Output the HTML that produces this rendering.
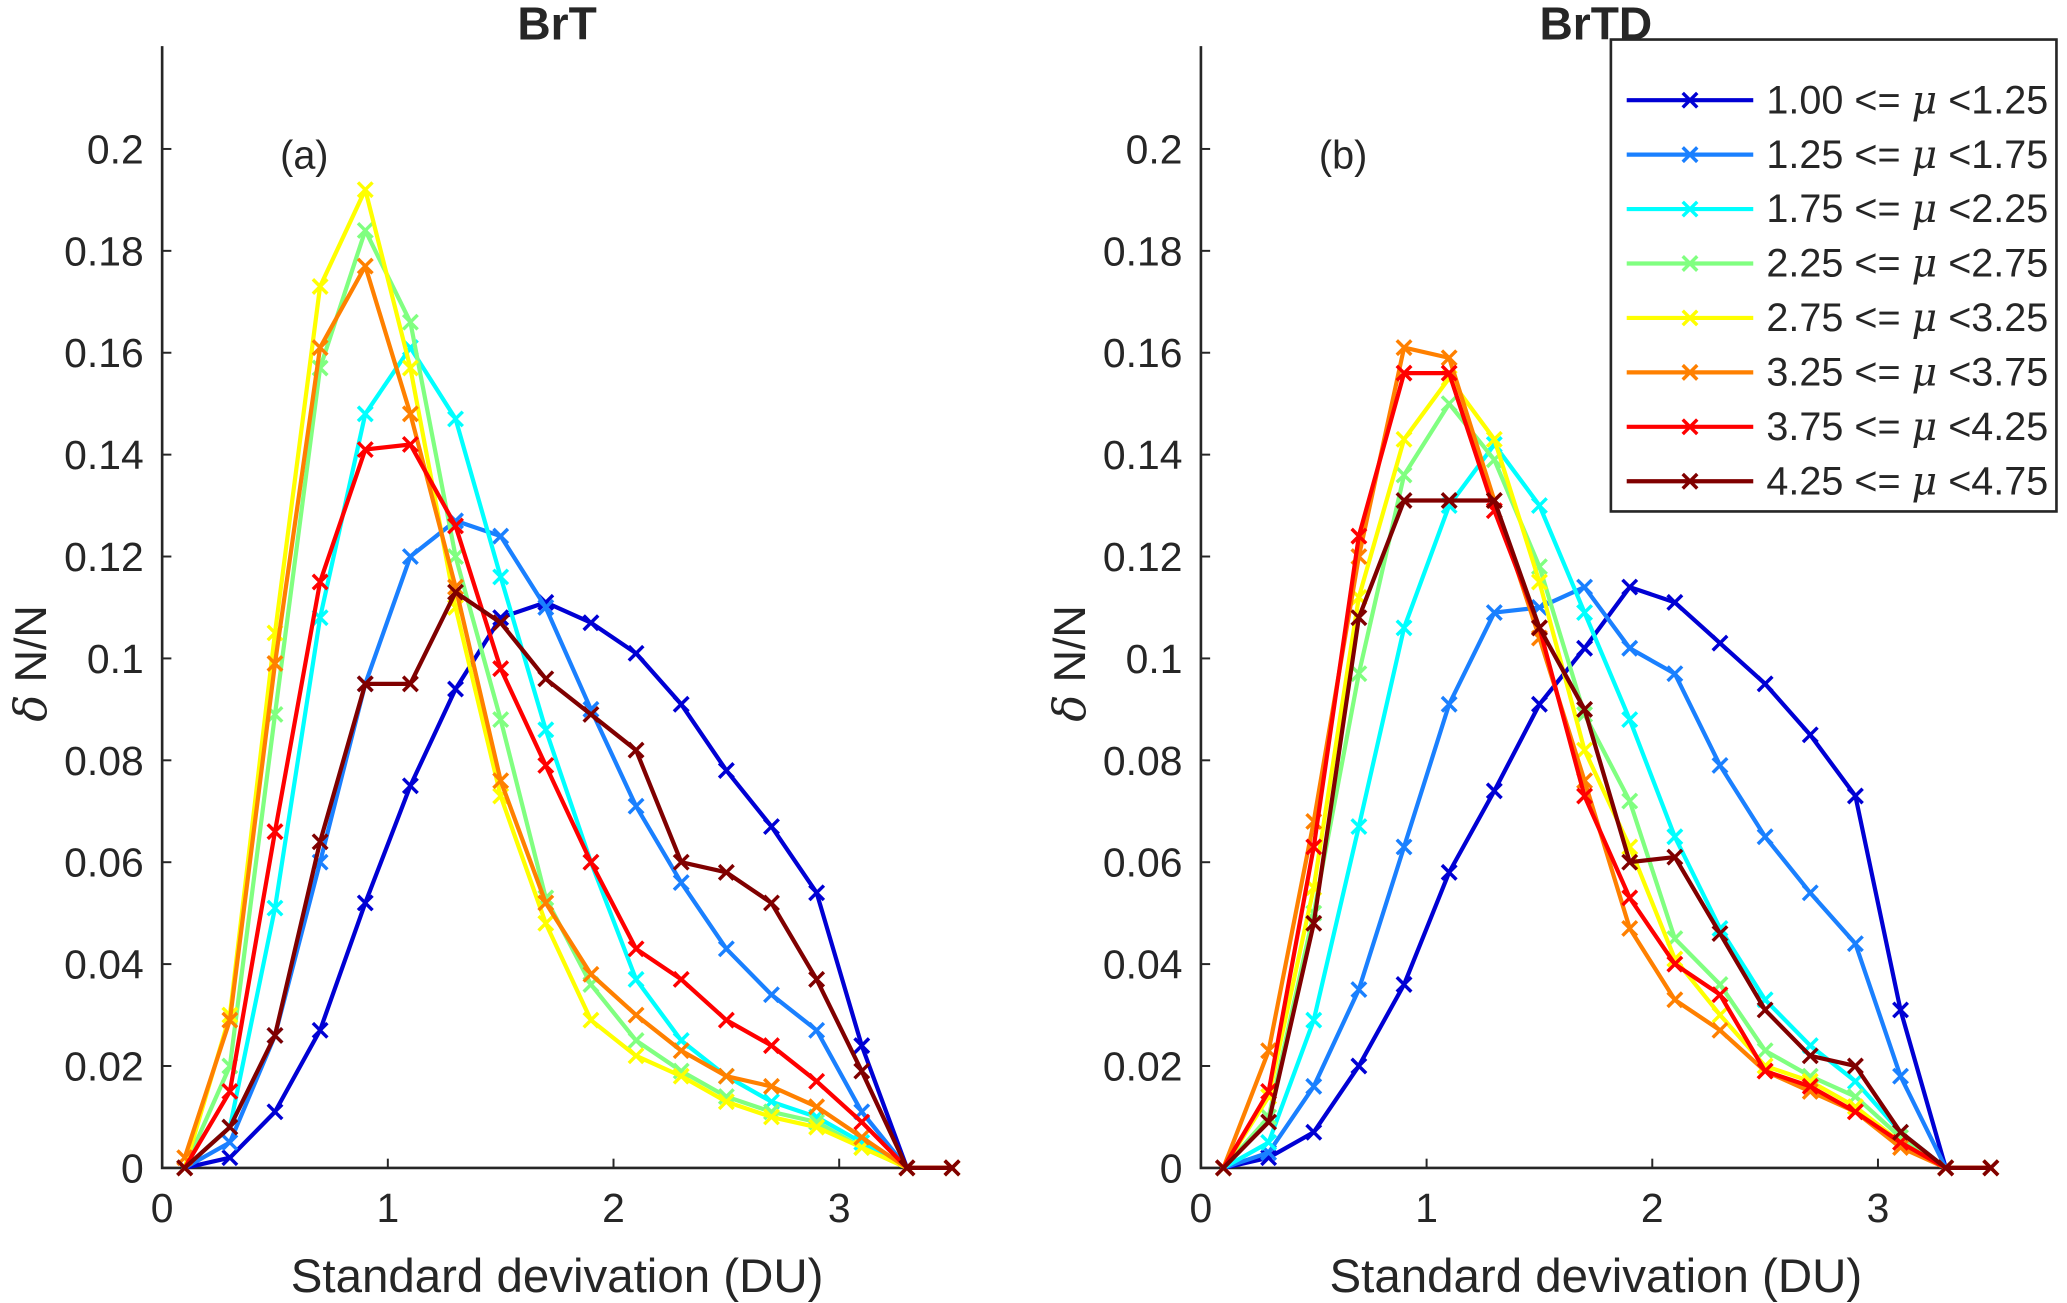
<!DOCTYPE html>
<html><head><meta charset="utf-8"><style>
html,body{margin:0;padding:0;background:#fff;}
svg{display:block;}
text{font-family:"Liberation Sans",sans-serif;fill:#262626;}
</style></head><body>
<svg id="fig" width="2067" height="1303" viewBox="0 0 1568 988.5" preserveAspectRatio="none" xmlns="http://www.w3.org/2000/svg"></svg>
<script>
const xs=[0.1,0.3,0.5,0.7,0.9,1.1,1.3,1.5,1.7,1.9,2.1,2.3,2.5,2.7,2.9,3.1,3.3,3.5];
const seriesLabels=["1.00","1.25","1.75","2.25","2.75","3.25","3.75","4.25"];
const seriesUpper=["1.25","1.75","2.25","2.75","3.25","3.75","4.25","4.75"];
const colors=["#0000d4","#1a80ff","#00ffff","#80ff80","#ffff00","#ff8000","#ff0000","#800000"];
const yTicks=[0,0.02,0.04,0.06,0.08,0.1,0.12,0.14,0.16,0.18,0.2];
const xTicks=[0,1,2,3];
const panelA=[
[0,0.002,0.011,0.027,0.052,0.075,0.094,0.108,0.111,0.107,0.101,0.091,0.078,0.067,0.054,0.024,0,0],
[0,0.005,0.026,0.060,0.095,0.120,0.127,0.124,0.110,0.090,0.071,0.056,0.043,0.034,0.027,0.011,0,0],
[0,0.008,0.051,0.108,0.148,0.161,0.147,0.116,0.086,0.060,0.037,0.025,0.018,0.013,0.010,0.005,0,0],
[0,0.020,0.089,0.157,0.184,0.166,0.120,0.088,0.053,0.036,0.025,0.019,0.014,0.011,0.009,0.004,0,0],
[0,0.030,0.105,0.173,0.192,0.157,0.110,0.073,0.048,0.029,0.022,0.018,0.013,0.010,0.008,0.004,0,0],
[0.002,0.029,0.099,0.161,0.177,0.148,0.114,0.076,0.052,0.038,0.030,0.023,0.018,0.016,0.012,0.006,0,0],
[0,0.015,0.066,0.115,0.141,0.142,0.126,0.098,0.079,0.060,0.043,0.037,0.029,0.024,0.017,0.009,0,0],
[0,0.008,0.026,0.064,0.095,0.095,0.113,0.107,0.096,0.089,0.082,0.060,0.058,0.052,0.037,0.019,0,0]];
const panelB=[
[0,0.002,0.007,0.020,0.036,0.058,0.074,0.091,0.102,0.114,0.111,0.103,0.095,0.085,0.073,0.031,0,0],
[0,0.003,0.016,0.035,0.063,0.091,0.109,0.110,0.114,0.102,0.097,0.079,0.065,0.054,0.044,0.018,0,0],
[0,0.005,0.029,0.067,0.106,0.130,0.142,0.130,0.109,0.088,0.065,0.047,0.033,0.024,0.017,0.007,0,0],
[0,0.010,0.050,0.097,0.136,0.150,0.139,0.118,0.089,0.072,0.045,0.036,0.023,0.018,0.014,0.006,0,0],
[0,0.014,0.055,0.112,0.143,0.155,0.143,0.115,0.082,0.063,0.041,0.030,0.020,0.017,0.012,0.005,0,0],
[0,0.023,0.068,0.120,0.161,0.159,0.131,0.104,0.076,0.047,0.033,0.027,0.019,0.015,0.011,0.004,0,0],
[0,0.015,0.063,0.124,0.156,0.156,0.129,0.106,0.073,0.053,0.040,0.034,0.019,0.016,0.011,0.005,0,0],
[0,0.009,0.048,0.108,0.131,0.131,0.131,0.106,0.090,0.060,0.061,0.046,0.031,0.022,0.020,0.007,0,0]];

const NS="http://www.w3.org/2000/svg";
const svg=document.getElementById('fig');
function mk(tag,attrs,parent){const e=document.createElementNS(NS,tag);for(const k in attrs)e.setAttribute(k,attrs[k]);(parent||svg).appendChild(e);return e;}

function drawPanel(ox,title,tag,data,name){
  const g=mk('g',{});
  
  
  const sx=v=>ox+v*171.2;
  const sy=v=>886-v*3865;
  const top=35;
  const ax=mk('path',{d:`M${ox},${top} L${ox},886 L${sx(3.5)},886`,stroke:'#262626','stroke-width':2,fill:'none'},g);
  
  
  yTicks.forEach(t=>{
    mk('line',{x1:ox,x2:ox+7,y1:sy(t),y2:sy(t),stroke:'#262626','stroke-width':1.5},g);
    const tx=mk('text',{x:ox-14,y:sy(t)+11,'text-anchor':'end','font-size':31},g);
    tx.textContent=String(t);
    
    
  });
  xTicks.forEach(t=>{
    mk('line',{x1:sx(t),x2:sx(t),y1:886,y2:879,stroke:'#262626','stroke-width':1.5},g);
    const tx=mk('text',{x:sx(t),y:927,'text-anchor':'middle','font-size':31},g);
    tx.textContent=String(t);
    
    
  });
  const tt=mk('text',{x:sx(1.75),y:30,'text-anchor':'middle','font-size':35,'font-weight':'bold',fill:'#000'},g);
  tt.textContent=title;
  
  
  const tg=mk('text',{x:sx(0.63),y:128,'text-anchor':'middle','font-size':30,fill:'#000'},g);
  tg.textContent=tag;
  
  
  const xl=mk('text',{x:sx(1.75),y:980,'text-anchor':'middle','font-size':36},g);
  xl.textContent='Standard devivation (DU)';
  
  
  const yl=mk('text',{x:0,y:0,'text-anchor':'middle','font-size':34,transform:`translate(${ox-88},${sy(0.099)}) rotate(-90)`},g);
  yl.innerHTML='<tspan font-style="italic" font-family="DejaVu Serif, serif">δ</tspan> N/N';
  
  
  data.forEach((ser,i)=>{
    const sg=mk('g',{},g);
    
    
    const pts=ser.map((v,j)=>`${sx(xs[j]).toFixed(1)},${sy(v).toFixed(1)}`).join(' ');
    mk('polyline',{points:pts,fill:'none',stroke:colors[i],'stroke-width':3.2,'stroke-linejoin':'round'},sg);
    ser.forEach((v,j)=>{
      const cx=sx(xs[j]),cy=sy(v),r=5.5;
      mk('path',{d:`M${cx-r},${cy-r}L${cx+r},${cy+r}M${cx-r},${cy+r}L${cx+r},${cy-r}`,stroke:colors[i],'stroke-width':2.6},sg);
    });
  });
}
drawPanel(123,'BrT','(a)',panelA,'panel-a');
drawPanel(911,'BrTD','(b)',panelB,'panel-b');

const lg=mk('g',{});


mk('rect',{x:1222,y:30,width:338,height:358,fill:'#fff',stroke:'#262626','stroke-width':2},lg);
seriesLabels.forEach((s,i)=>{
  const y=76+i*41.3;
  const e=mk('g',{},lg);
  
  
  mk('line',{x1:1234,x2:1330,y1:y,y2:y,stroke:colors[i],'stroke-width':3.2},e);
  mk('path',{d:`M1276.5,${y-5.5}L1287.5,${y+5.5}M1276.5,${y+5.5}L1287.5,${y-5.5}`,stroke:colors[i],'stroke-width':2.6},e);
  const t=mk('text',{x:1340,y:y+10,'font-size':30,fill:'#000'},e);
  t.innerHTML=`${s} &lt;= <tspan font-style="italic" font-family="DejaVu Serif, serif">μ</tspan> &lt;${seriesUpper[i]}`;
});
</script>
</body></html>
